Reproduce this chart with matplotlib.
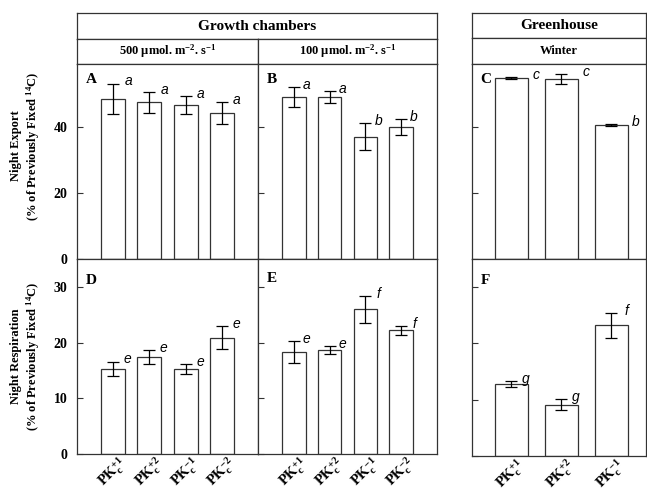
import numpy as np
import matplotlib
matplotlib.use('Agg')
import matplotlib.pyplot as plt

plt.rcParams['font.family'] = 'Liberation Serif'
plt.rcParams['font.weight'] = 'bold'
plt.rcParams['mathtext.fontset'] = 'custom'
plt.rcParams['mathtext.rm'] = 'Liberation Serif:bold'
plt.rcParams['mathtext.it'] = 'Liberation Serif:bold'
plt.rcParams['mathtext.bf'] = 'Liberation Serif:bold'
plt.rcParams['mathtext.default'] = 'rm'

# categories
labels_gc = ['PK$_c^{+1}$', 'PK$_c^{+2}$', 'PK$_c^{-1}$', 'PK$_c^{-2}$']
labels_gh = ['PK$_c^{+1}$', 'PK$_c^{+2}$', 'PK$_c^{-1}$']

# night export (% of previously fixed 14C)
export_500 = [48.5, 47.4, 46.6, 44.1]
export_500_err = [4.6, 3.2, 2.7, 3.3]
export_100 = [49.0, 49.0, 37.0, 39.9]
export_100_err = [3.0, 1.8, 4.0, 2.5]
export_gh = [54.7, 54.6, 40.4]
export_gh_err = [0.3, 1.5, 0.3]

# night respiration (% of previously fixed 14C)
resp_500 = [15.3, 17.4, 15.3, 20.9]
resp_500_err = [1.3, 1.2, 0.9, 2.0]
resp_100 = [18.3, 18.6, 26.0, 22.2]
resp_100_err = [2.0, 0.7, 2.4, 0.8]
resp_gh = [12.8, 9.1, 23.2]
resp_gh_err = [0.55, 0.95, 2.2]

# significance letters
sig_A = ['a', 'a', 'a', 'a']
sig_B = ['a', 'a', 'b', 'b']
sig_C = ['c', 'c', 'b']
sig_D = ['e', 'e', 'e', 'e']
sig_E = ['e', 'e', 'f', 'f']
sig_F = ['g', 'g', 'f']

W, H = 647, 493
fig = plt.figure(figsize=(W / 100, H / 100), dpi=100)
EDGE = '#333333'


def box(x0, y0, x1, y1):
    """axes in pixel coords (top-left origin)"""
    return fig.add_axes([x0 / W, 1 - y1 / H, (x1 - x0) / W, (y1 - y0) / H])


def header(x0, y0, x1, y1, text, size):
    ax = box(x0, y0, x1, y1)
    ax.set_xticks([])
    ax.set_yticks([])
    for s in ax.spines.values():
        s.set_color(EDGE)
        s.set_linewidth(0.9)
    ax.text(0.5, 0.5, text, ha='center', va='center', fontsize=size,
            fontweight='bold', transform=ax.transAxes)
    return ax


def panel(ax, vals, errs, sig, letter, ylim, yticks, xlim, dx, show_ylab, ly):
    x = np.arange(1, len(vals) + 1)
    ax.bar(x, vals, width=0.66, color='white', edgecolor=EDGE, linewidth=0.9)
    ax.errorbar(x, vals, yerr=errs, fmt='none', ecolor='black',
                elinewidth=0.9, capsize=4, capthick=0.9)
    for xi, v, e, s in zip(x, vals, errs, sig):
        ax.annotate(s, (xi + dx, v + e), xytext=(0, 1.5), textcoords='offset points',
                    ha='center', va='center', fontsize=10, style='italic',
                    fontweight='normal', family='Liberation Sans')
    ax.set_xlim(*xlim)
    ax.set_ylim(*ylim)
    ax.set_yticks(yticks)
    ax.tick_params(axis='y', direction='in', length=4, labelsize=10, pad=7,
                   color=EDGE)
    if not show_ylab:
        ax.set_yticklabels([])
    ax.tick_params(axis='x', length=0)
    for s in ax.spines.values():
        s.set_color(EDGE)
        s.set_linewidth(0.9)
    ax.text(0.05, ly, letter, transform=ax.transAxes, fontsize=11,
            fontweight='bold', ha='left', va='center')


# header boxes
header(77, 13, 437, 39, 'Growth chambers', 11)
header(77, 39, 258, 64, '500 \u00b5mol. m$^{-2}$. s$^{-1}$', 9)
header(258, 39, 437, 64, '100 \u00b5mol. m$^{-2}$. s$^{-1}$', 9)
header(472, 13, 646, 38, 'Greenhouse', 11)
header(472, 38, 646, 64, 'Winter', 9)

axA = box(77, 64, 258, 259)
axB = box(258, 64, 437, 259)
axC = box(472, 64, 646, 259)
axD = box(77, 259, 258, 454)
axE = box(258, 259, 437, 454)
axF = box(472, 259, 646, 456)

top_lim, top_ticks = (0, 59), [0, 20, 40]
bot_lim, bot_ticks = (0, 35), [0, 10, 20, 30]
xl_gc, xl_gh = (0, 5), (0.22, 3.7)

panel(axA, export_500, export_500_err, sig_A, 'A', top_lim, top_ticks, xl_gc, 0.42, True, 0.92)
panel(axB, export_100, export_100_err, sig_B, 'B', top_lim, top_ticks, xl_gc, 0.36, False, 0.92)
panel(axC, export_gh, export_gh_err, sig_C, 'C', top_lim, top_ticks, xl_gh, 0.5, False, 0.92)
panel(axD, resp_500, resp_500_err, sig_D, 'D', bot_lim, bot_ticks, xl_gc, 0.4, True, 0.89)
panel(axE, resp_100, resp_100_err, sig_E, 'E', bot_lim, bot_ticks, xl_gc, 0.36, False, 0.9)
panel(axF, resp_gh, resp_gh_err, sig_F, 'F', bot_lim, bot_ticks, xl_gh, 0.3, False, 0.89)

for ax in (axA, axB, axC):
    ax.set_xticks([])
for ax, labs in ((axD, labels_gc), (axE, labels_gc), (axF, labels_gh)):
    ax.set_xticks(np.arange(1, len(labs) + 1))
    ax.set_xticklabels(labs, rotation=45, ha='center', va='top', fontsize=10.5)
    ax.tick_params(axis='x', pad=0)

fig.text(26 / W, 1 - 146 / H, 'Night Export\n(% of Previously Fixed $^{14}$C)',
         rotation=90, ha='center', va='center', fontsize=9, fontweight='bold',
         linespacing=1.2)
fig.text(26 / W, 1 - 356 / H, 'Night Respiration\n(% of Previously Fixed $^{14}$C)',
         rotation=90, ha='center', va='center', fontsize=9, fontweight='bold',
         linespacing=1.2)

fig.savefig('out.png', dpi=100)
